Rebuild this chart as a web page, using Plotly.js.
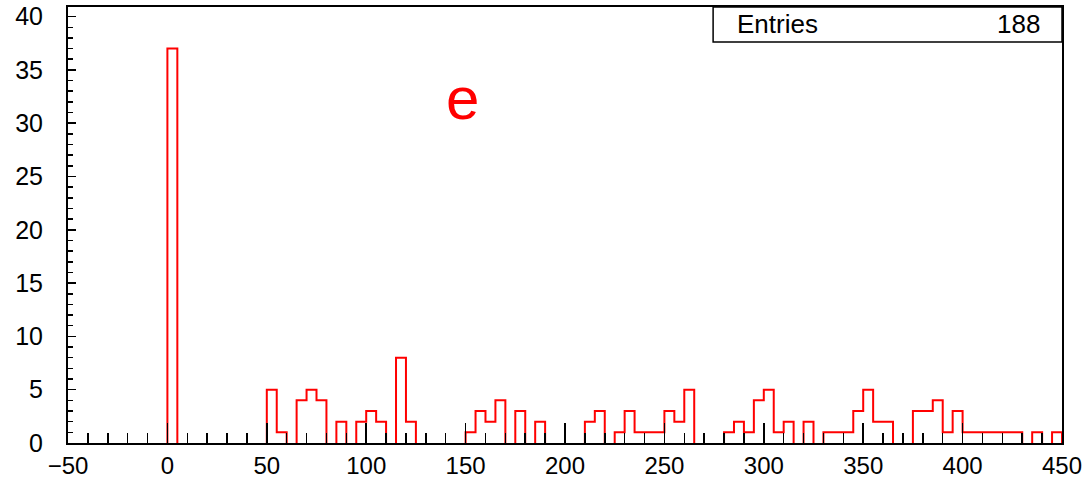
<!DOCTYPE html>
<html>
<head>
<meta charset="utf-8">
<script src="https://cdn.plot.ly/plotly-3.0.1.min.js"></script>
<style>html,body{margin:0;padding:0;background:#fff;}#chart{width:1088px;height:478px;}</style>
</head>
<body>
<div id="chart"></div>
<script>
// Histogram bins: left edge of first bin and bin width
const binStart = 0;
const binWidth = 5;
// Counts per bin, bins [0,5), [5,10), ... [445,450)
const counts = [
  37, 0, 0, 0, 0, 0, 0, 0, 0, 0,
  5, 1, 0, 4, 5, 4, 0, 2, 0, 2,
  3, 2, 0, 8, 2, 0, 0, 0, 0, 0,
  1, 3, 2, 4, 0, 3, 0, 2, 0, 0,
  0, 0, 2, 3, 0, 1, 3, 1, 1, 1,
  3, 2, 5, 0, 0, 0, 1, 2, 1, 4,
  5, 1, 2, 0, 2, 0, 1, 1, 1, 3,
  5, 2, 2, 0, 0, 3, 3, 4, 1, 3,
  1, 1, 1, 1, 1, 1, 0, 1, 0, 1
];
const entriesLabel = "Entries";
const entriesValue = "188";
const panelLabel = "e";
const xTickVals = [-50, 0, 50, 100, 150, 200, 250, 300, 350, 400, 450];
const yTickVals = [0, 5, 10, 15, 20, 25, 30, 35, 40];

// Build step outline for runs of non-empty bins (empty bins lie on the axis)
const xs = [];
const ys = [];
let i = 0;
while (i < counts.length) {
  if (counts[i] === 0) { i++; continue; }
  let j = i;
  xs.push(binStart + i * binWidth); ys.push(0);
  while (j < counts.length && counts[j] !== 0) {
    xs.push(binStart + j * binWidth); ys.push(counts[j]);
    j++;
  }
  xs.push(binStart + j * binWidth); ys.push(0);
  xs.push(null); ys.push(null);
  i = j;
}

const font = "Liberation Sans, Arial, Helvetica, sans-serif";

const trace = {
  type: "scatter",
  mode: "lines",
  x: xs,
  y: ys,
  connectgaps: false,
  line: {shape: "hv", color: "#ff0000", width: 2},
  hoverinfo: "skip",
  showlegend: false
};

const layout = {
  width: 1088,
  height: 478,
  margin: {l: 68, r: 26, t: 7, b: 35, pad: 0},
  paper_bgcolor: "#ffffff",
  plot_bgcolor: "#ffffff",
  showlegend: false,
  xaxis: {
    range: [-50, 450],
    tickmode: "array",
    tickvals: xTickVals,
    ticks: "inside",
    ticklen: 20,
    tickwidth: 1.5,
    tickcolor: "#000",
    minor: {dtick: 10, tick0: 0, ticks: "inside", ticklen: 10, tickwidth: 1.5, tickcolor: "#000", showgrid: false},
    showline: true,
    linecolor: "#000",
    linewidth: 2,
    mirror: true,
    showgrid: false,
    zeroline: false,
    layer: "above traces",
    tickfont: {family: font, size: 24, color: "#000"},
    ticklabelstandoff: 0
  },
  yaxis: {
    range: [0, 40.9],
    tickmode: "array",
    tickvals: yTickVals,
    ticks: "inside",
    ticklen: 8,
    tickwidth: 1.5,
    tickcolor: "#000",
    minor: {dtick: 1, tick0: 0, ticks: "inside", ticklen: 5, tickwidth: 1.5, tickcolor: "#000", showgrid: false},
    showline: true,
    linecolor: "#000",
    linewidth: 2,
    mirror: true,
    showgrid: false,
    zeroline: false,
    layer: "above traces",
    tickfont: {family: font, size: 25, color: "#000"},
    ticklabelstandoff: 18
  },
  shapes: [{
    type: "rect",
    xref: "paper", yref: "paper",
    x0: 0.649, x1: 1.0, y0: 0.92, y1: 1.0,
    line: {color: "#000", width: 1.5},
    fillcolor: "#ffffff",
    layer: "above"
  }],
  annotations: [
    {xref: "paper", yref: "paper", x: 0.671, y: 0.961, xanchor: "left", yanchor: "middle",
     text: entriesLabel, showarrow: false, font: {family: font, size: 26, color: "#000"}},
    {xref: "paper", yref: "paper", x: 0.98, y: 0.961, xanchor: "right", yanchor: "middle",
     text: entriesValue, showarrow: false, font: {family: font, size: 26, color: "#000"}},
    {xref: "paper", yref: "paper", x: 0.397, y: 0.79, xanchor: "center", yanchor: "middle",
     text: panelLabel, showarrow: false, font: {family: font, size: 60, color: "#ff0000"}}
  ]
};

Plotly.newPlot("chart", [trace], layout, {staticPlot: true, displayModeBar: false});
</script>
</body>
</html>
